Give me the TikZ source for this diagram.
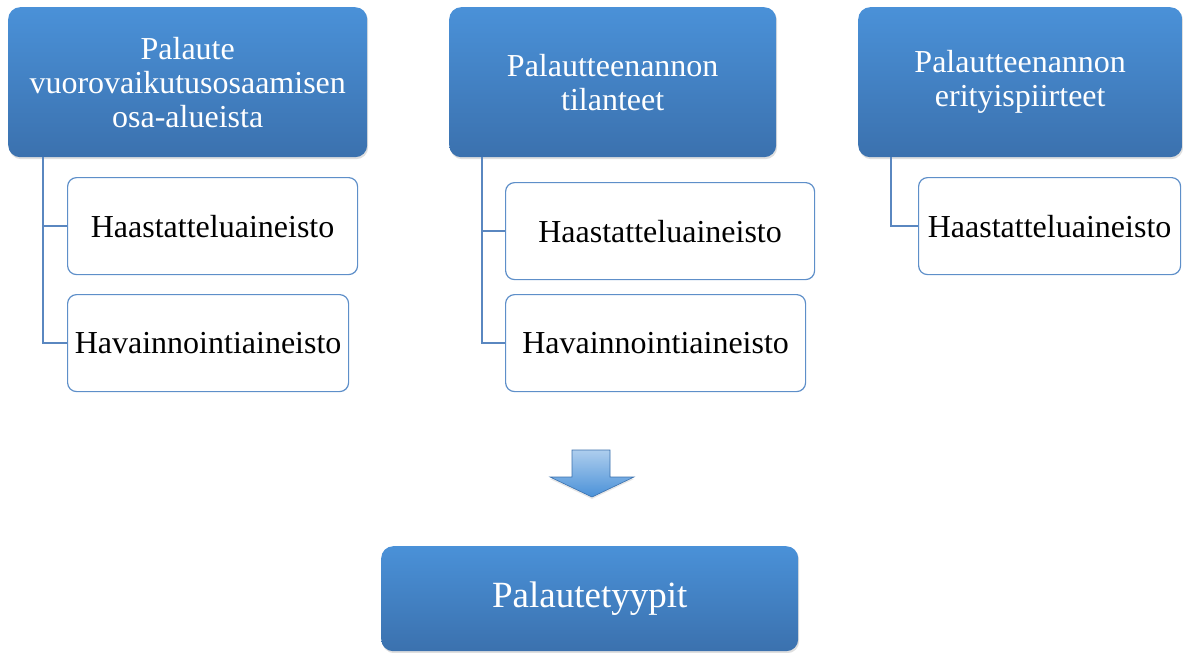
\documentclass[tikz,border=0pt]{standalone}
\usepackage{fontspec}
\setmainfont{Liberation Serif}
\usetikzlibrary{shadows}

\definecolor{headtop}{HTML}{4A91D8}
\definecolor{headbot}{HTML}{3B71AE}
\definecolor{boxline}{HTML}{5E8FC9}
\definecolor{linkline}{HTML}{5A87C0}

\tikzset{
  headbox/.style={anchor=north west, rounded corners=12pt, top color=headtop, bottom color=headbot,
    draw=none, text=white, align=center, inner sep=0pt,
    font=\fontsize{32}{34}\selectfont,
    drop shadow={shadow xshift=1pt, shadow yshift=-2pt, opacity=0.25}},
  itembox/.style={anchor=north west, rounded corners=9pt, draw=boxline, line width=1.2pt, fill=white,
    inner sep=0pt, font=\fontsize{32}{34}\selectfont},
  link/.style={draw=linkline, line width=1.3pt}
}

\begin{document}
\begin{tikzpicture}[x=1pt, y=-1pt]
    \useasboundingbox (0,0) rectangle (1183,653);

    % headers
    \node[headbox, minimum width=359pt, minimum height=150pt] (h1) at (8,7)
        {Palaute\\vuorovaikutusosaamisen\\osa-alueista};
    \node[headbox, minimum width=327pt, minimum height=150pt] (h2) at (449,7)
        {Palautteenannon\\tilanteet};
    \node[headbox, minimum width=324pt, minimum height=150pt] (h3) at (858,7)
        {Palautteenannon\\erityispiirteet};

    % aineistot
    \node[itembox, minimum width=290pt, minimum height=97pt] (a1) at (67,177) {Haastatteluaineisto};
    \node[itembox, minimum width=281pt, minimum height=97pt] (a2) at (67,294) {Havainnointiaineisto};
    \node[itembox, minimum width=309pt, minimum height=97pt] (b1) at (505,182) {Haastatteluaineisto};
    \node[itembox, minimum width=300pt, minimum height=97pt] (b2) at (505,294) {Havainnointiaineisto};
    \node[itembox, minimum width=262pt, minimum height=97pt] (c1) at (918,177) {Haastatteluaineisto};

    \draw[link] ([xshift=35pt]h1.south west) |- (a1.west);
    \draw[link] ([xshift=35pt]h1.south west) |- (a2.west);
    \draw[link] ([xshift=33pt]h2.south west) |- (b1.west);
    \draw[link] ([xshift=33pt]h2.south west) |- (b2.west);
    \draw[link] ([xshift=33pt]h3.south west) |- (c1.west);

    % arrow down
    \coordinate (tip) at (592,497);
    \draw[draw=headbot, line width=0.6pt, top color=headtop!45!white, bottom color=headtop,
          drop shadow={shadow xshift=0pt, shadow yshift=-2pt, opacity=0.2}]
        ([shift={(-20,-47)}]tip) -- ([shift={(18,-47)}]tip) -- ([shift={(18,-20)}]tip)
        -- ([shift={(42,-20)}]tip) -- (tip) -- ([shift={(-42,-20)}]tip)
        -- ([shift={(-20,-20)}]tip) -- cycle;

    \node[headbox, minimum width=417pt, minimum height=105pt, font=\fontsize{37}{40}\selectfont] (res) at (381,546)
        {Palautetyypit};
\end{tikzpicture}
\end{document}
